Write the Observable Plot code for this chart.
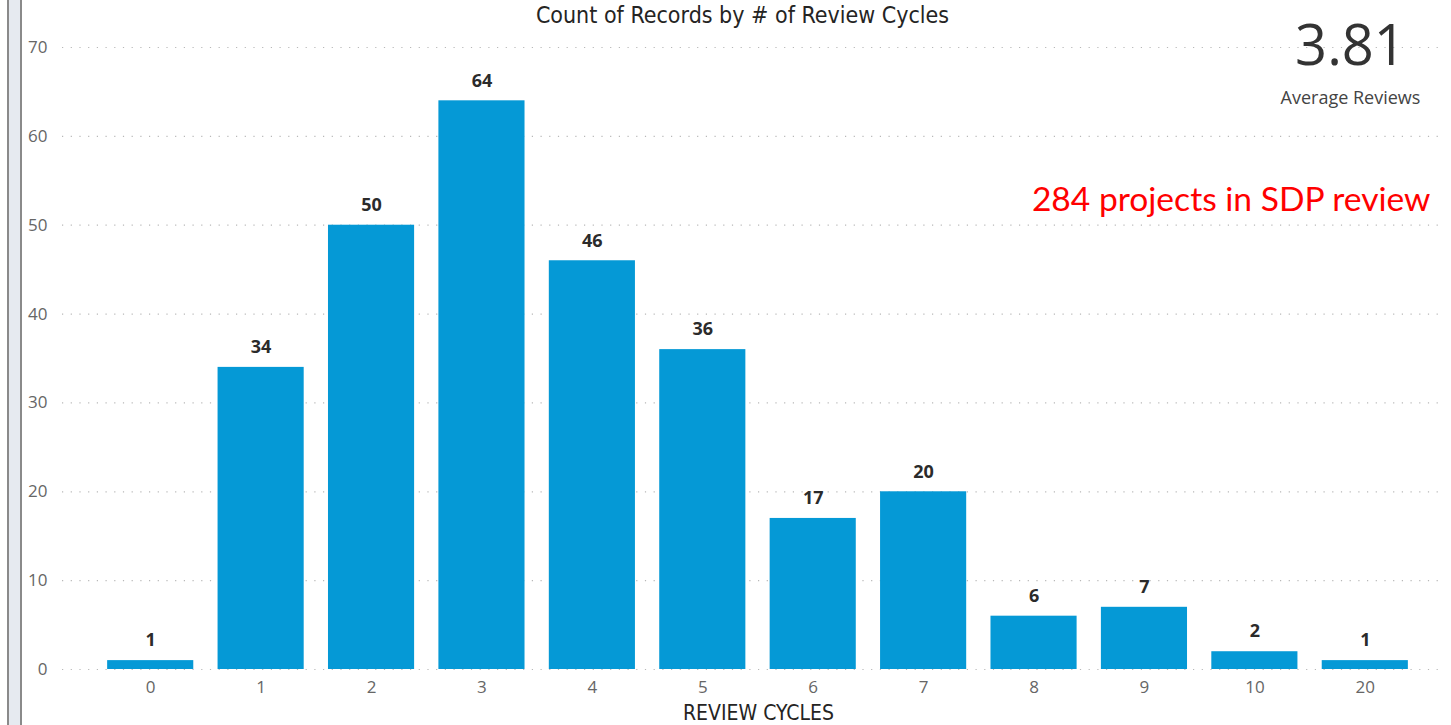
<!DOCTYPE html>
<html>
<head>
<meta charset="utf-8">
<script src="https://cdn.jsdelivr.net/npm/d3@7"></script>
<script src="https://cdn.jsdelivr.net/npm/@observablehq/plot@0.6"></script>
<style>
  html, body { margin: 0; padding: 0; background: #fff; }
  #wrap { position: relative; width: 1451px; height: 725px; overflow: hidden; }
  #sidebar { position: absolute; left: 7px; top: 0; width: 11px; height: 725px;
    background: #e6eaf0; border-left: 2px solid #8a8a8a; border-right: 2px solid #8a8a8a; }
  #chart { position: absolute; left: 0; top: 0; }
</style>
</head>
<body>
<div id="wrap"><div id="sidebar"></div><div id="chart"></div></div>
<script>
const cycles = ["0", "1", "2", "3", "4", "5", "6", "7", "8", "9", "10", "20"];
const counts = [1, 34, 50, 64, 46, 36, 17, 20, 6, 7, 2, 1];
const yTicks = [0, 10, 20, 30, 40, 50, 60, 70];
const titleText = "Count of Records by # of Review Cycles";
const xAxisTitle = "REVIEW CYCLES";
const kpiValue = "3.81";
const kpiLabel = "Average Reviews";
const note = "284 projects in SDP review";

const data = cycles.map((c, i) => ({cycle: c, count: counts[i]}));
const SEGOE = "'Segoe UI', 'Open Sans', sans-serif";
const DIN = "'DejaVu Sans Condensed', 'Roboto', sans-serif";

const chart = Plot.plot({
  width: 1451,
  height: 725,
  marginTop: 47,
  marginBottom: 56,
  marginLeft: 62,
  marginRight: 11,
  style: {fontFamily: SEGOE, color: "#666", background: "transparent"},
  x: {domain: cycles, range: [95, 1420], paddingInner: 0.22, paddingOuter: 0.11, round: false, label: null},
  y: {domain: [0, 70], label: null},
  marks: [
    Plot.gridY(yTicks, {stroke: "#b8b8b8", strokeOpacity: 1, strokeWidth: 1.2, strokeDasharray: "1.2,7.5"}),
    Plot.barY(data, {x: "cycle", y: "count", fill: "#0599d6"}),
    Plot.text(data, {x: "cycle", y: "count", text: d => String(d.count), dy: -20,
      fill: "#2b2b2b", fontSize: 18, fontWeight: "bold", fontFamily: SEGOE}),
    Plot.axisY({ticks: yTicks, tickSize: 0, tickPadding: 15, fontSize: 17, label: null}),
    Plot.axisX({tickSize: 0, tickPadding: 11, fontSize: 17, label: null}),
    Plot.text([titleText], {frameAnchor: "top", lineAnchor: "middle", dx: -9, dy: -32, fontSize: 23,
      fill: "#252423", fontFamily: DIN}),
    Plot.text([xAxisTitle], {frameAnchor: "bottom", lineAnchor: "middle", dx: 7, dy: 44, fontSize: 21,
      fill: "#252423", fontFamily: DIN}),
    Plot.text([kpiValue], {frameAnchor: "top-right", lineAnchor: "middle", textAnchor: "middle", dx: -90, dy: 0,
      fontSize: 56, fill: "#333", fontFamily: SEGOE}),
    Plot.text([kpiLabel], {frameAnchor: "top-right", lineAnchor: "middle", textAnchor: "middle", dx: -90, dy: 51,
      fontSize: 18, fill: "#444", fontFamily: SEGOE}),
    Plot.text([note], {frameAnchor: "top-right", lineAnchor: "middle", textAnchor: "end", dx: -10, dy: 153,
      fontSize: 33.6, fill: "#ff0000", fontFamily: "Lato, 'Open Sans', sans-serif"})
  ]
});
document.getElementById("chart").appendChild(chart);
</script>
</body>
</html>
